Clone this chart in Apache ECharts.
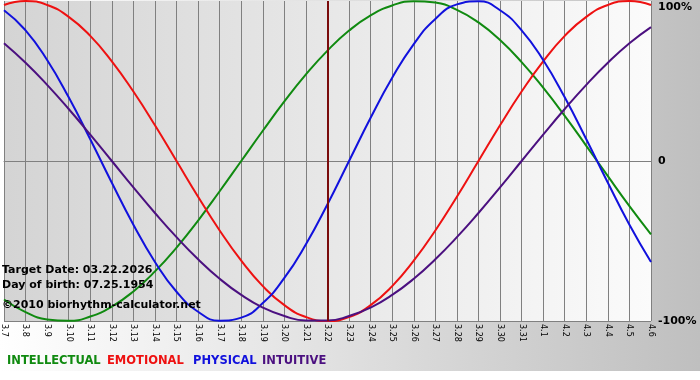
<!DOCTYPE html>
<html>
<head>
<meta charset="utf-8">
<script src="https://cdn.jsdelivr.net/npm/echarts@6/dist/echarts.min.js"></script>
<style>html,body{margin:0;padding:0;background:#fff}#c{width:700px;height:380px}</style>
</head>
<body>
<div id="c"></div>
<script>
var categories = ['3.7','3.8','3.9','3.10','3.11','3.12','3.13','3.14','3.15','3.16','3.17','3.18','3.19','3.20','3.21','3.22','3.23','3.24','3.25','3.26','3.27','3.28','3.29','3.30','3.31','4.1','4.2','4.3','4.4','4.5','4.6'];
var intellectual = [-0.866,-0.945,-0.990,-0.999,-0.972,-0.910,-0.815,-0.690,-0.541,-0.372,-0.189,0,0.189,0.372,0.541,0.690,0.815,0.910,0.972,0.999,0.990,0.945,0.866,0.756,0.618,0.458,0.282,0.095,-0.095,-0.282,-0.458];
var emotional = [0.975,1,0.975,0.901,0.782,0.623,0.434,0.223,0,-0.223,-0.434,-0.623,-0.782,-0.901,-0.975,-1,-0.975,-0.901,-0.782,-0.623,-0.434,-0.223,0,0.223,0.434,0.623,0.782,0.901,0.975,1,0.975];
var physical = [0.942,0.817,0.631,0.398,0.136,-0.136,-0.398,-0.631,-0.817,-0.942,-0.998,-0.979,-0.888,-0.731,-0.520,-0.270,0,0.270,0.520,0.731,0.888,0.979,0.998,0.942,0.817,0.631,0.398,0.136,-0.136,-0.398,-0.631];
var intuitive = [0.736,0.614,0.476,0.325,0.165,0,-0.165,-0.325,-0.476,-0.614,-0.736,-0.837,-0.916,-0.969,-0.997,-0.997,-0.969,-0.916,-0.837,-0.736,-0.614,-0.476,-0.325,-0.165,0,0.165,0.325,0.476,0.614,0.736,0.837];
var yTickLabels = {'1':'100%','0':'0','-1':'-100%'};
var targetDay = '3.22';
var infoLines = ['Target Date: 03.22.2026','Day of birth: 07.25.1954','\u00a92010 biorhythm-calculator.net'];
var legendNames = ['INTELLECTUAL','EMOTIONAL','PHYSICAL','INTUITIVE'];

var colors = ['#108a10','#ee1111','#1111dd','#4b1080'];
var FF = '"DejaVu Sans", Verdana, sans-serif';
var chart = echarts.init(document.getElementById('c'), null, {renderer:'canvas'});

function mk(name, data, color){
  return {name:name, type:'line', data:data, smooth:true, symbol:'none', lineStyle:{color:color, width:2}, itemStyle:{color:color}};
}
var series = [
  mk('INTELLECTUAL', intellectual, colors[0]),
  mk('EMOTIONAL', emotional, colors[1]),
  mk('PHYSICAL', physical, colors[2]),
  mk('INTUITIVE', intuitive, colors[3])
];
series[3].markLine = {silent:true, symbol:'none', label:{show:false}, lineStyle:{color:'#7a0c0c', width:2, type:'solid'}, data:[{xAxis:targetDay}]};

var legendX = [7,107,193,262];
var graphics = [
  {type:'rect', z:-10, silent:true, shape:{x:0,y:371,width:700,height:9}, style:{fill:'#ffffff'}}
];
var infoY = [272,287,307];
infoLines.forEach(function(t,i){
  graphics.push({type:'text', z:100, left:2, top:infoY[i]-7, style:{text:t, fill:'#000', fontSize:11, fontWeight:'bold', fontFamily:FF}});
});
legendNames.forEach(function(t,i){
  graphics.push({type:'text', z:100, left:legendX[i], top:355, style:{text:t, fill:colors[i], fontSize:11.5, fontWeight:'bold', fontFamily:FF}});
});

chart.setOption({
  animation:false,
  backgroundColor:new echarts.graphic.LinearGradient(0,0,1,0,[{offset:0,color:'#ffffff'},{offset:1,color:'#bfbfbf'}]),
  grid:{left:0, right:49, top:1, bottom:59, show:true, borderWidth:0,
    backgroundColor:new echarts.graphic.LinearGradient(0,0,1,0,[{offset:0,color:'#d4d4d4'},{offset:1,color:'#fbfbfb'}])},
  xAxis:{type:'category', data:categories, boundaryGap:false,
    axisLine:{lineStyle:{color:'#808080', width:1}},
    axisTick:{show:true, length:4, interval:0, lineStyle:{color:'#808080'}},
    axisLabel:{interval:0, rotate:-90, fontSize:8, color:'#000', fontFamily:FF, margin:3},
    splitLine:{show:true, interval:0, lineStyle:{color:'#808080', width:1}}},
  yAxis:{type:'value', min:-1, max:1, interval:1, position:'right',
    axisLine:{show:false}, axisTick:{show:false},
    axisLabel:{margin:7, color:'#000', fontSize:11, fontWeight:'bold', fontFamily:FF,
      formatter:function(v){ var s = yTickLabels[String(v)]; return v===1 ? '{t|'+s+'}' : s; },
      rich:{t:{padding:[12,0,0,0], fontSize:11, fontWeight:'bold', fontFamily:FF, color:'#000'}}},
    splitLine:{show:true, lineStyle:{color:['#808080','#808080','rgba(0,0,0,0)'], width:1}}},
  series:series,
  graphic:graphics
});
</script>
</body>
</html>
